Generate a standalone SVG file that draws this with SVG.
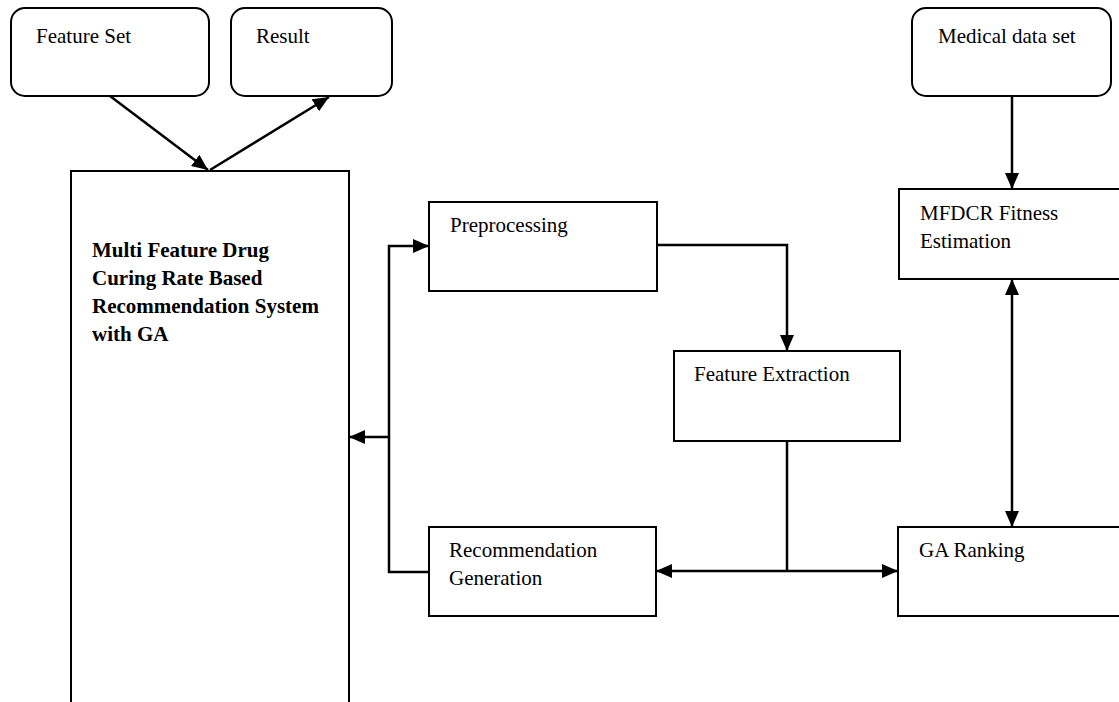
<svg xmlns="http://www.w3.org/2000/svg" width="1119" height="702" viewBox="0 0 1119 702">
<style>
.box{fill:#fff;stroke:#000;stroke-width:2}
.t{font-family:"Liberation Serif","Times New Roman",serif;font-size:21px;fill:#000}
.b{font-weight:bold}
.c{fill:none;stroke:#000;stroke-width:2.5}
</style>
<defs>
<marker id="ah" viewBox="0 0 16 14" refX="16" refY="7" markerWidth="16" markerHeight="14" markerUnits="userSpaceOnUse" orient="auto-start-reverse">
<path d="M0,0 L16,7 L0,14 Z" fill="#000"/>
</marker>
</defs>
<rect width="1119" height="702" fill="#fff"/>
<g id="feature-set"><rect class="box" x="11" y="8" width="198" height="88" rx="14"/><text class="t" x="36" y="43">Feature Set</text></g>
<g id="result"><rect class="box" x="231" y="8" width="161" height="88" rx="14"/><text class="t" x="256" y="43">Result</text></g>
<g id="medical"><rect class="box" x="912" y="8" width="199" height="88" rx="14"/><text class="t" x="938" y="43">Medical data set</text></g>
<g id="main"><rect class="box" x="71" y="171" width="278" height="540"/>
<text class="t b" x="92" y="257">Multi Feature Drug</text>
<text class="t b" x="92" y="285">Curing Rate Based</text>
<text class="t b" x="92" y="313">Recommendation System</text>
<text class="t b" x="92" y="341">with GA</text></g>
<g id="preprocessing"><rect class="box" x="429" y="202" width="228" height="89"/><text class="t" x="450" y="232">Preprocessing</text></g>
<g id="feature-extraction"><rect class="box" x="674" y="351" width="226" height="90"/><text class="t" x="694" y="381">Feature Extraction</text></g>
<g id="recommendation"><rect class="box" x="429" y="527" width="227" height="89"/><text class="t" x="449" y="557">Recommendation</text><text class="t" x="449" y="585">Generation</text></g>
<g id="ga-ranking"><rect class="box" x="898" y="527" width="230" height="89"/><text class="t" x="919" y="557">GA Ranking</text></g>
<g id="mfdcr"><rect class="box" x="899" y="189" width="230" height="90"/><text class="t" x="920" y="220">MFDCR Fitness</text><text class="t" x="920" y="248">Estimation</text></g>
<g id="connectors">
<line class="c" x1="110" y1="96" x2="208" y2="170" marker-end="url(#ah)"/>
<line class="c" x1="210" y1="170" x2="329" y2="97" marker-end="url(#ah)"/>
<line class="c" x1="1012" y1="96" x2="1012" y2="189" marker-end="url(#ah)"/>
<line class="c" x1="1012" y1="279" x2="1012" y2="527" marker-start="url(#ah)" marker-end="url(#ah)"/>
<polyline class="c" points="657,245 787,245 787,351" marker-end="url(#ah)"/>
<line class="c" x1="787" y1="441" x2="787" y2="571"/>
<line class="c" x1="656" y1="571" x2="898" y2="571" marker-start="url(#ah)" marker-end="url(#ah)"/>
<polyline class="c" points="429,246 389,246 389,572 429,572" marker-start="url(#ah)"/>
<line class="c" x1="389" y1="437" x2="349" y2="437" marker-end="url(#ah)"/>
</g>
</svg>
